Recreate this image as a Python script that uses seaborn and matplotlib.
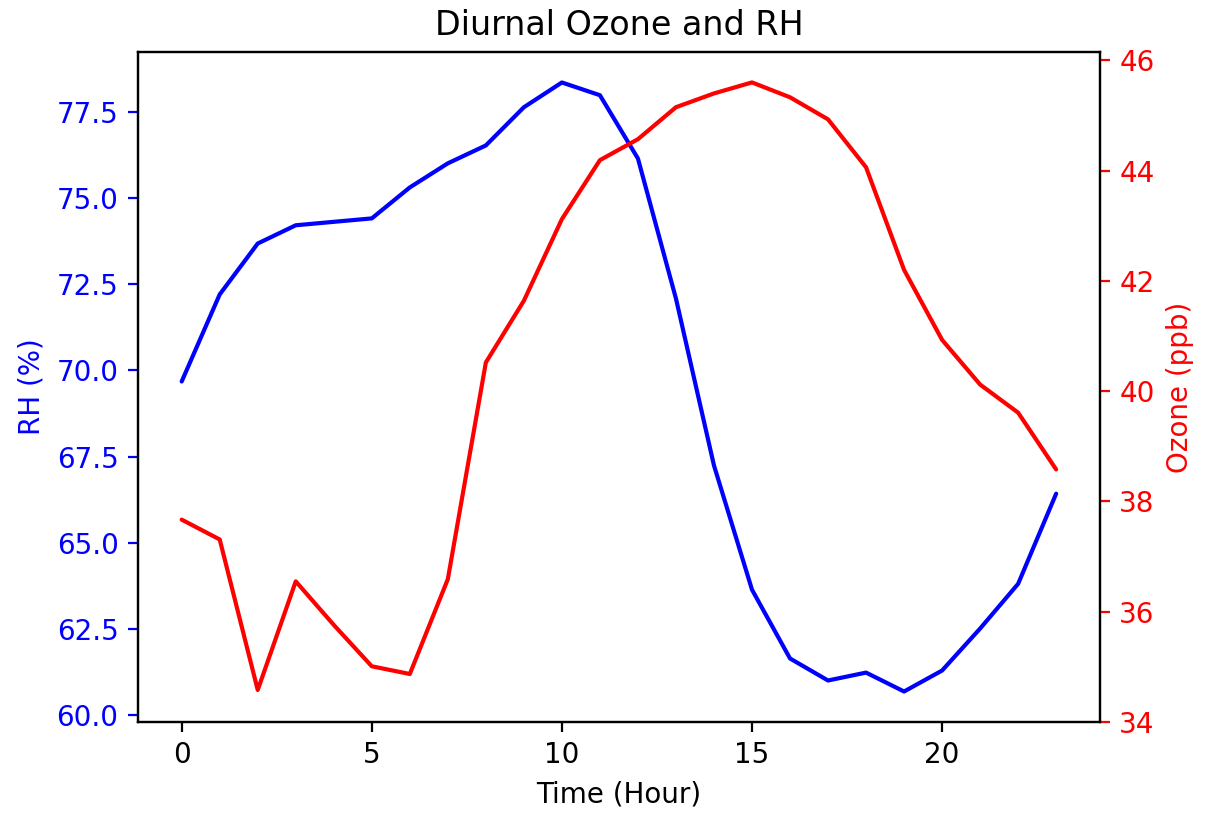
import pandas as pd
import matplotlib
matplotlib.use("Agg")
import matplotlib.pyplot as plt
import seaborn as sns

# hourly means
hours = list(range(24))
rh = [69.68, 72.21, 73.69, 74.22, 74.32, 74.42, 75.32, 76.02, 76.54, 77.65,
      78.37, 78.0, 76.16, 72.09, 67.24, 63.63, 61.63, 60.99, 61.22, 60.67,
      61.28, 62.5, 63.8, 66.42]
ozone = [37.67, 37.31, 34.58, 36.55, 35.76, 35.01, 34.87, 36.59, 40.52, 41.64,
         43.12, 44.19, 44.57, 45.15, 45.40, 45.60, 45.33, 44.93, 44.06, 42.20,
         40.93, 40.12, 39.61, 38.58]

df = pd.DataFrame({"hour": hours, "rh": rh, "ozone": ozone})

sns.set_style("ticks")
plt.rcParams["font.family"] = ["DejaVu Sans"]
plt.rcParams["axes.edgecolor"] = "black"
plt.rcParams["text.color"] = "black"
plt.rcParams["axes.labelcolor"] = "black"
plt.rcParams["xtick.color"] = "black"
plt.rcParams["ytick.color"] = "black"

fig, ax1 = plt.subplots(figsize=(6.03, 4.09), dpi=200)
fig.subplots_adjust(left=0.1144, right=0.912, bottom=0.1174, top=0.9364)

sns.lineplot(data=df, x="hour", y="rh", color="blue", ax=ax1)
ax1.set_xlabel("Time (Hour)")
ax1.set_ylabel("RH (%)", color="blue")
ax1.tick_params(axis="y", colors="blue")
ax1.set_xticks([0, 5, 10, 15, 20])
ax1.set_yticks([60.0, 62.5, 65.0, 67.5, 70.0, 72.5, 75.0, 77.5])

ax2 = ax1.twinx()
sns.lineplot(data=df, x="hour", y="ozone", color="red", ax=ax2)
ax2.set_ylabel("Ozone (ppb)", color="red")
ax2.tick_params(axis="y", colors="red")
ax2.set_yticks([34, 36, 38, 40, 42, 44, 46])

ax1.set_title("Diurnal Ozone and RH", color="black")
fig.savefig("out.png", dpi=200)
